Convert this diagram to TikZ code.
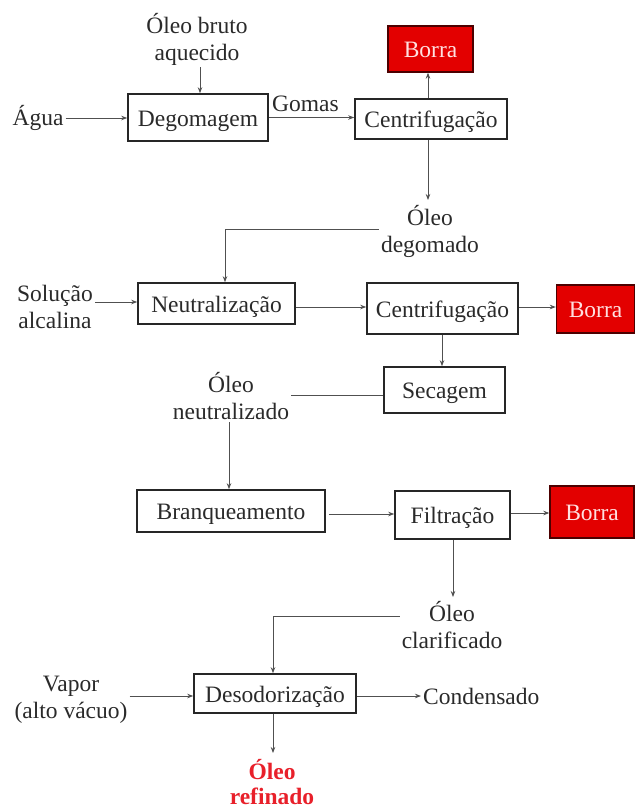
\documentclass[tikz,border=0pt]{standalone}
\usepackage{fontspec}
\setmainfont{Liberation Serif}
\usetikzlibrary{arrows.meta}
\definecolor{txt}{HTML}{2A2A2A}
\definecolor{ln}{HTML}{505050}
\definecolor{borrared}{HTML}{E30000}
\definecolor{borratxt}{HTML}{FFE0E0}
\definecolor{refred}{HTML}{E8202A}
\tikzset{
  base/.style={font=\fontsize{23.5}{27}\selectfont, text=txt},
  procbox/.style={base, draw=black!85, line width=1.6pt, fill=white, inner sep=0pt, text height=17.5pt, text depth=0pt},
  borrabox/.style={base, draw=black!70!red, line width=1.4pt, fill=borrared, text=borratxt, inner sep=0pt, text height=17.5pt, text depth=0pt},
  lbl/.style={base, align=center, inner sep=2pt},
  arr/.style={draw=ln, line width=0.8pt, -{Stealth[length=6pt,width=4.5pt]}},
  ln/.style={draw=ln, line width=0.8pt},
}
\begin{document}
\begin{tikzpicture}[x=1pt,y=-1pt]
\useasboundingbox (0,0) rectangle (636,809);
% process boxes
\node[procbox, minimum width=140, minimum height=47] (degom) at (198,117.5) {Degomagem};
\node[procbox, minimum width=152, minimum height=40] (cent1) at (431,119) {Centrifugação};
\node[borrabox, minimum width=85, minimum height=46] (borra1) at (430.5,49) {Borra};
\node[procbox, minimum width=157, minimum height=41] (neut) at (216.5,303.5) {Neutralização};
\node[procbox, minimum width=151, minimum height=51] (cent2) at (442.5,308.5) {Centrifugação};
\node[borrabox, minimum width=78, minimum height=48] (borra2) at (595.5,309) {Borra};
\node[procbox, minimum width=121, minimum height=46] (sec) at (444.5,390) {Secagem};
\node[procbox, minimum width=188, minimum height=42] (bran) at (231,511) {Branqueamento};
\node[procbox, minimum width=115, minimum height=48] (filt) at (452.5,515) {Filtração};
\node[borrabox, minimum width=84, minimum height=52] (borra3) at (592,512) {Borra};
\node[procbox, minimum width=162, minimum height=39] (deso) at (275,693.5) {Desodorização};
% labels
\node[lbl] (oleobruto) at (197,39) {Óleo bruto\\aquecido};
\node[lbl] (agua) at (38,118) {Água};
\node[base, anchor=south west, inner sep=0pt] (gomas) at (272,112) {Gomas};
\node[lbl] (oleodeg) at (430,231.5) {Óleo\\degomado};
\node[lbl] (solucao) at (55,306.5) {Solução\\alcalina};
\node[lbl] (oleoneut) at (231,396.5) {Óleo\\neutralizado};
\node[lbl] (oleoclar) at (452,625) {Óleo\\clarificado};
\node[lbl] (vapor) at (71,700) {Vapor\\(alto vácuo)};
\node[base, anchor=west, inner sep=2pt] (cond) at (421,696) {Condensado};
\node[lbl, text=refred, font=\fontsize{23.5}{25.5}\selectfont\bfseries] (oleoref) at (272,782) {Óleo\\refinado};
% coordinates
\coordinate (c1) at (225,229);
\coordinate (c2) at (229,395);
\coordinate (c3) at (273,616);
% connectors
\draw[arr] (agua.east) -- (degom.west |- agua.east);
\draw[arr] (oleobruto.south -| 200,0) -- (degom.north -| 200,0);
\draw[arr] (degom.east) -- (degom.east -| cent1.west);
\draw[arr] (cent1.north -| 428,0) -- (borra1.south -| 428,0);
\draw[arr] (cent1.south -| 428,0) -- (428,200);
\draw[ln] (oleodeg.west |- c1) -- (c1);
\draw[arr] (c1) -- (c1 |- neut.north);
\draw[arr] (solucao.east |- 0,302) -- (neut.west |- 0,302);
\draw[arr] (neut.east |- 0,307) -- (cent2.west |- 0,307);
\draw[arr] (cent2.east |- 0,307) -- (borra2.west |- 0,307);
\draw[arr] (cent2.south -| 442,0) -- (sec.north -| 442,0);
\draw[ln] (sec.west |- c2) -- (oleoneut.east |- c2);
\draw[arr] (oleoneut.south -| c2) -- (c2 |- bran.north);
\draw[arr] ([xshift=3pt]bran.east |- 0,514) -- (filt.west |- 0,514);
\draw[arr] (filt.east |- 0,513) -- (borra3.west |- 0,513);
\draw[arr] (filt.south -| 453,0) -- (453,597);
\draw[ln] (oleoclar.west |- c3) -- (c3);
\draw[arr] (c3) -- (c3 |- deso.north);
\draw[arr] (vapor.east |- 0,696) -- (deso.west |- 0,696);
\draw[arr] (deso.east |- 0,696) -- (cond.west);
\draw[arr] (deso.south -| 273,0) -- (273,753);
\end{tikzpicture}
\end{document}
